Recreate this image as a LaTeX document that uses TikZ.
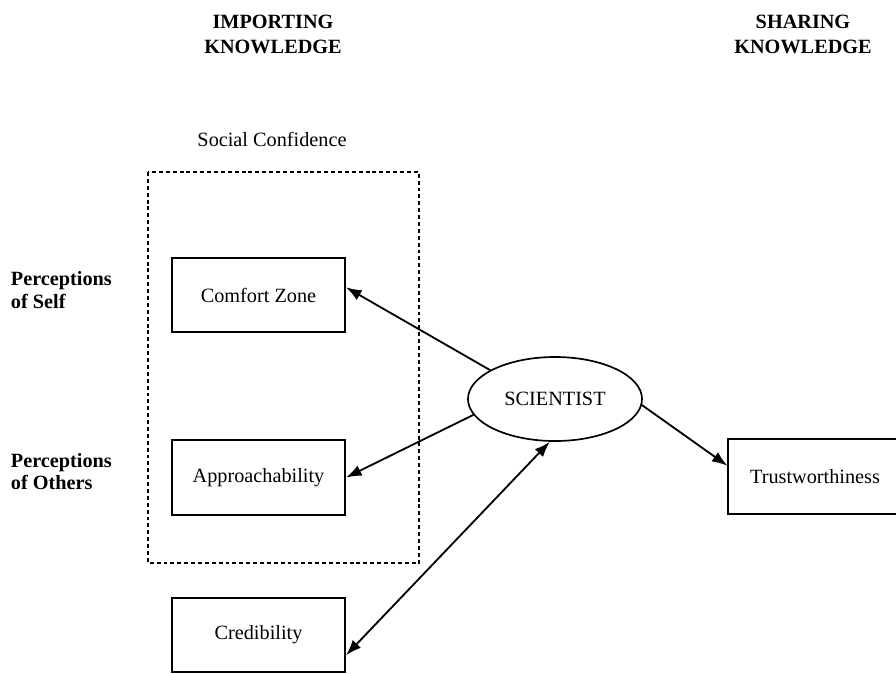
\documentclass[tikz,border=0pt]{standalone}
\usepackage{fontspec}
\setmainfont{Liberation Serif}
\usetikzlibrary{shapes.geometric,arrows.meta}

\begin{document}
\begin{tikzpicture}[x=0.025cm, y=-0.025cm,
  every node/.style={font=\fontsize{14.4pt}{17.7pt}\selectfont},
  box/.style={draw, line width=1.3pt, minimum width=4.33cm, minimum height=1.86cm, inner sep=0pt},
  heading/.style={align=center, font=\fontsize{14.4pt}{17.7pt}\selectfont\bfseries},
  side/.style={anchor=west, align=left, font=\fontsize{14.4pt}{16pt}\selectfont\bfseries},
  frame/.style={line width=1.3pt, dash pattern=on 2.8pt off 2.1pt},
  tip/.style={-{Latex[length=11pt,width=8pt]}},
  link/.style={line width=1.3pt, tip}]

\def\xbox{258.5}; % box column
\def\xsci{555}; % scientist
\def\ysci{399};

\useasboundingbox (0,0) rectangle (896,673);
\clip (0,0) rectangle (896,673);

% column headings
\node[heading] (imp) at (273, 34) {IMPORTING\\KNOWLEDGE};
\node[heading] (shr) at (803, 34) {SHARING\\KNOWLEDGE};

% social confidence group
\draw[frame] (148,172) rectangle (419,563);
\node (soc) at (272, 139) {Social Confidence};

\node[side] (pself) at (6, 290) {Perceptions\\of Self};
\node[side] (pothr) at (6, 471.5) {Perceptions\\of Others};

\node[box] (comfort) at (\xbox, 295) {Comfort Zone};
\node[box] (appr) at (\xbox, 477.5) {Approachability};
\node[box] (cred) at (\xbox, 635) {Credibility};
\node[box] (trust) at (815, 476.5) {Trustworthiness};

\node[draw, ellipse, line width=1.2pt, minimum width=4.35cm, minimum height=2.1cm, inner sep=0pt] (sci) at (\xsci, \ysci) {SCIENTIST};

% links
\draw[link] (sci.156) -- (comfort.5);
\draw[link] (sci.191) -- (appr.east);
\draw[line width=1.3pt, {Latex[length=11pt,width=8pt]}-{Latex[length=11pt,width=8pt]}] (cred.347) -- (sci.263);
\draw[link] (sci.356) -- (trust.173);

\end{tikzpicture}
\end{document}
